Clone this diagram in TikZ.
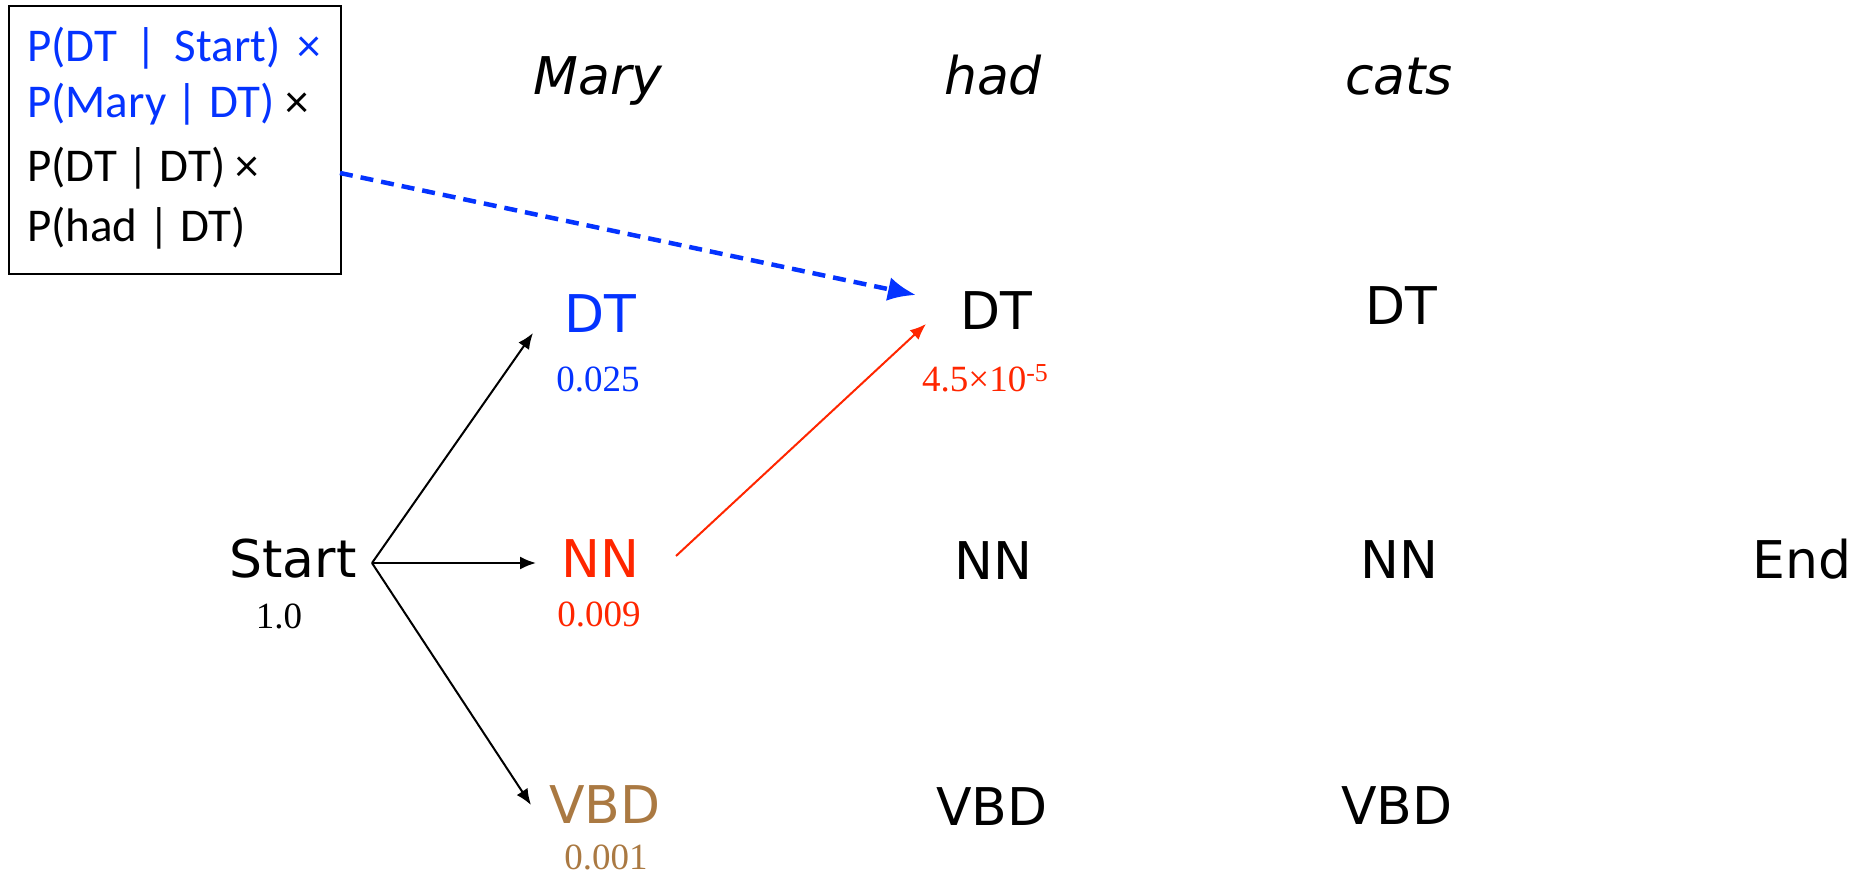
\documentclass[tikz,border=0pt]{standalone}
\usepackage{fontspec}
\newfontfamily\dv{DejaVu Sans}
\newfontfamily\carl{Carlito}
\newfontfamily\lser{Liberation Serif}
\usetikzlibrary{arrows.meta}
\definecolor{vblue}{RGB}{4,51,255}
\definecolor{vred}{RGB}{255,38,0}
\definecolor{vbrown}{RGB}{170,121,66}
\begin{document}
\begin{tikzpicture}[x=1pt,y=-1pt,
  tag/.style={font=\dv\fontsize{52}{60}\selectfont, inner sep=0pt, anchor=base},
  word/.style={font=\dv\itshape\fontsize{52}{60}\selectfont, inner sep=0pt, anchor=base},
  num/.style={font=\lser\fontsize{37}{44}\selectfont, inner sep=0pt, anchor=base},
  boxline/.style={font=\carl\fontsize{47}{56}\selectfont, inner sep=0pt, anchor=base west},
  arr/.style={-{Latex[length=16pt,width=13pt]}, line width=2pt},
  dasharr/.style={-{Latex[length=28pt,width=24pt]}, line width=4.5pt, dash pattern=on 13pt off 8pt, vblue}
]
\useasboundingbox (0,0) rectangle (1862,874);

% formula box
\node[draw, line width=2pt, minimum width=332pt, minimum height=268pt, anchor=north west, inner sep=0pt] (box) at (8,5) {};
\node[boxline, text=vblue] (l1) at (27,62) {P(DT\hspace{8pt} |\hspace{7pt} Start)\hspace{6pt} ×};
\node[boxline] (l2) at (27,118) {\textcolor{vblue}{P(Mary | DT)} ×};
\node[boxline] (l3) at (27,182) {P(DT | DT) ×};
\node[boxline] (l4) at (27,242) {P(had | DT)};

% words
\node[word] (mary) at (598,95) {Mary};
\node[word] (had) at (993,95) {had};
\node[word] (cats) at (1399,95) {cats};

% tags
\node[tag, text=vblue] (dt1) at (600,333) {DT};
\node[num, text=vblue] (p1) at (598,391) {0.025};
\node[tag] (dt2) at (996,330) {DT};
\node[num, text=vred, anchor=base west] (p2) at (922,391) {4.5×10\textsuperscript{-5}};
\node[tag] (dt3) at (1401,324) {DT};

\node[tag] (start) at (293,577) {Start};
\node[num] (p0) at (279,628) {1.0};
\node[tag, text=vred] (nn1) at (600,577) {NN};
\node[num, text=vred] (p3) at (599,626) {0.009};
\node[tag] (nn2) at (993,579) {NN};
\node[tag] (nn3) at (1399,578) {NN};
\node[tag] (end) at (1802,578) {End};

\node[tag, text=vbrown] (vbd1) at (605,823) {VBD};
\node[num, text=vbrown] (p4) at (606,869) {0.001};
\node[tag] (vbd2) at (992,825) {VBD};
\node[tag] (vbd3) at (1397,824) {VBD};

% connector points
\coordinate (sOut) at (372,563);
\coordinate (toDT) at (533,333);
\coordinate (toNN) at (536,563);
\coordinate (toVBD) at (531,805);
\coordinate (nnOut) at (676,556);
\coordinate (dtIn) at (926,324);
\coordinate (boxOut) at (340,173);
\coordinate (dtInB) at (916,295);

\draw[arr] (sOut) -- (toDT);
\draw[arr] (sOut) -- (toNN);
\draw[arr] (sOut) -- (toVBD);
\draw[arr, vred] (nnOut) -- (dtIn);
\draw[dasharr] (boxOut) -- (dtInB);
\end{tikzpicture}
\end{document}
